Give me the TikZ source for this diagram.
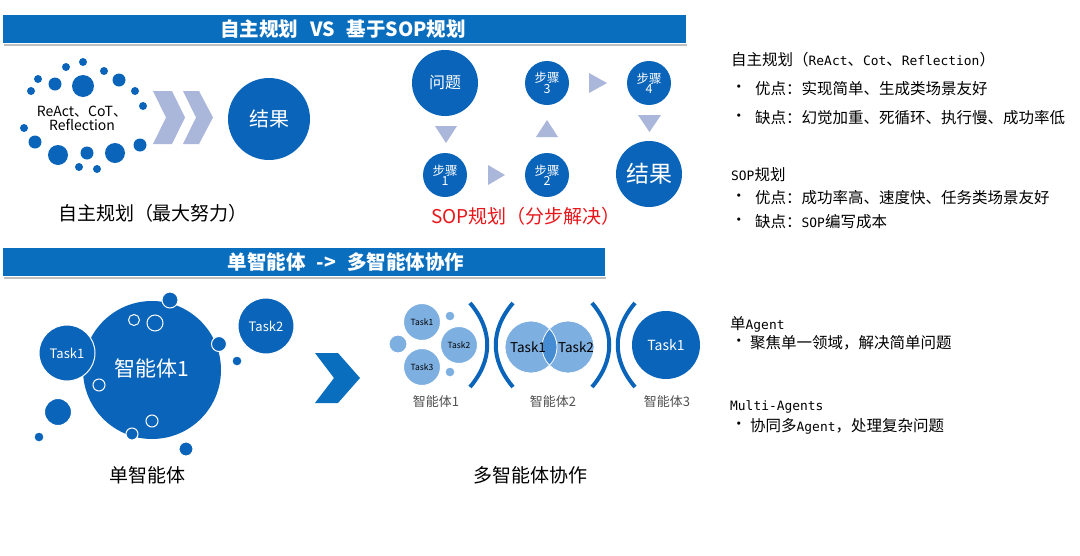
\documentclass[tikz,border=0pt]{standalone}
\usepackage{fontspec}
\setmainfont{Noto Sans CJK SC}
\newfontfamily\mono{DejaVu Sans Mono}
\newcommand\mn[1]{{\mono\fontsize{12.9}{12.9}\selectfont #1}}
\newcommand\fs[1]{\fontsize{#1}{#1}\selectfont}
\definecolor{mainblue}{RGB}{10,100,185}
\definecolor{banblue}{RGB}{10,110,190}
\definecolor{chev}{RGB}{170,182,218}
\definecolor{lightc}{RGB}{125,175,225}
\definecolor{overlapc}{RGB}{70,140,210}
\definecolor{labgray}{RGB}{80,80,80}
\tikzset{
  banner/.style={fill=banblue, inner sep=0pt},
  bantext/.style={inner sep=0pt, text=white, font=\bfseries\fs{19.5}},
  dot/.style={circle, fill=mainblue, inner sep=0pt},
  wdot/.style={circle, fill=mainblue, draw=white, line width=1pt, inner sep=0pt},
  hollow/.style={circle, draw=white, line width=1pt, inner sep=0pt},
  ldot/.style={circle, fill=lightc, draw=white, line width=1pt, inner sep=0pt},
  tri/.style={fill=chev},
  brk/.style={draw=mainblue, line width=4pt},
  rtext/.style={anchor=west, inner sep=0pt, font=\fs{15.5}, text=black},
  ttl/.style={inner sep=0pt, font=\fs{19}, text=black},
}
\begin{document}
\begin{tikzpicture}[x=1pt,y=-1pt]
\useasboundingbox (0,0) rectangle (1080,555);
\fill[white] (0,0) rectangle (1080,555);

% banners
\fill[black!25] (4,44) rectangle (687,45.5);
\node[banner, minimum width=683, minimum height=28] (ban1) at (344.5,29) {};
\node[bantext] (ban1t) at (343,29) {自主规划\hspace{12pt}VS\hspace{12pt}基于SOP规划};
\fill[black!25] (4,277) rectangle (606,278.5);
\node[banner, minimum width=602, minimum height=28] (ban2) at (304,262) {};
\node[bantext] (ban2t) at (346,262) {单智能体\hspace{11pt}->\hspace{11pt}多智能体协作};

% dot cloud
\foreach \x/\y/\r [count=\i] in {83/62/4,66/67/4,104/71/4,38/79/4,55/84/6.5,83/86/11,119/80/6.5,31/91/4,135/91/4,143/106/4,24/128/4,35/142/6.5,140/145/6.5,58/155/10,87/153/6.5,115/153/10,79/167/4,97/169/4}
  \node[dot, minimum size=2*\r] (d\i) at (\x,\y) {};
\node[align=center, inner sep=0pt, font=\fs{14}] (react) at (82,118) {ReAct、CoT、\\[0pt]Reflection};

% chevrons
\fill[chev] (153,91) -- (172,91) -- (185,117.5) -- (172,144) -- (153,144) -- (166,117.5) -- cycle;
\fill[chev] (183,91) -- (199,91) -- (213,117.5) -- (199,144) -- (183,144) -- (196,117.5) -- cycle;
\node[dot, minimum size=82, text=white, font=\fs{20}] (res1) at (269,119) {结果};
\node[ttl] (cap1) at (153,213) {自主规划（最大努力）};

% SOP
\node[dot, minimum size=66, text=white, font=\fs{16}] (q) at (445,83) {问题};
\node[dot, minimum size=44, text=white, font=\fs{12.5}, align=center] (s1) at (445,175) {步骤\\[-2pt]1};
\node[dot, minimum size=44, text=white, font=\fs{12.5}, align=center] (s2) at (547,175) {步骤\\[-2pt]2};
\node[dot, minimum size=44, text=white, font=\fs{12.5}, align=center] (s3) at (547,83) {步骤\\[-2pt]3};
\node[dot, minimum size=44, text=white, font=\fs{12.5}, align=center] (s4) at (649,83) {步骤\\[-2pt]4};
\node[dot, minimum size=66, text=white, font=\fs{23}] (res2) at (649,174) {结果};
\fill[tri] (435,126) -- (457,126) -- (446,143) -- cycle;
\fill[tri] (488,165) -- (505,175) -- (488,185) -- cycle;
\fill[tri] (536,137) -- (558,137) -- (547,120) -- cycle;
\fill[tri] (589,73) -- (607,83) -- (589,93) -- cycle;
\fill[tri] (638,115) -- (661,115) -- (649.5,132) -- cycle;
\node[ttl, text={rgb,255:red,232;green,22;blue,27}] (cap2) at (526,216) {SOP规划（分步解决）};

% right text top
\node[rtext] (r1) at (731,60) {自主规划（\mn{ReAct}、\mn{Cot}、\mn{Reflection}）};
\node[rtext] (b1) at (731,89) {•};
\node[rtext] (r2) at (755,89) {优点：实现简单、生成类场景友好};
\node[rtext] (b2) at (731,118) {•};
\node[rtext] (r3) at (755,118) {缺点：幻觉加重、死循环、执行慢、成功率低};
\node[rtext] (r4) at (731,175) {\mn{SOP}规划};
\node[rtext] (b3) at (731,198) {•};
\node[rtext] (r5) at (755,198) {优点：成功率高、速度快、任务类场景友好};
\node[rtext] (b4) at (731,222) {•};
\node[rtext] (r6) at (755,222) {缺点：\mn{SOP}编写成本};

% single agent
\node[dot, minimum size=138] (ag1) at (152,370) {};
\node[wdot, minimum size=56, text=white, font=\fs{13}] (tk1) at (67,353) {Task1};
\node[wdot, minimum size=56, text=white, font=\fs{13}] (tk2) at (266,326) {Task2};
\foreach \x/\y/\r [count=\i] in {170/300/8,219/344/7.5,237/361/5,58/412/13.5,39/437/5,186/449/7,132/434/6}
  \node[wdot, minimum size=2*\r] (sd\i) at (\x,\y) {};
\foreach \x/\y/\r [count=\i] in {134/320/5.5,155/323/8,99/385/6,152/421/6}
  \node[hollow, minimum size=2*\r] (h\i) at (\x,\y) {};
\node[inner sep=0pt, text=white, font=\fs{21}] (ag1t) at (152,368) {智能体1};
\node[ttl] (cap3) at (147,475) {单智能体};

% big chevron
\fill[banblue] (315,353) -- (338,353) -- (360,378) -- (338,403) -- (315,403) -- (334,378) -- cycle;

% multi agent 1
\node[ldot, minimum size=37, font=\fs{8.5}] (m1) at (422,322) {Task1};
\node[ldot, minimum size=37, font=\fs{8.5}] (m2) at (459,345) {Task2};
\node[ldot, minimum size=37, font=\fs{8.5}] (m3) at (422,367) {Task3};
\node[ldot, minimum size=18] (m4) at (398,344) {};
\node[ldot, minimum size=10] (m5) at (450,316) {};
\node[ldot, minimum size=10] (m6) at (450,372) {};
\node[inner sep=0pt, font=\fs{13}, text=labgray] (l1) at (436,402) {智能体1};

% brackets
\draw[brk] (470,303) .. controls (493,330) and (493,360) .. (470,387);
\draw[brk] (513,303) .. controls (490,330) and (490,360) .. (513,387);
\draw[brk] (592,303) .. controls (615,330) and (615,360) .. (592,387);
\draw[brk] (635,303) .. controls (612,330) and (612,360) .. (635,387);

% agent 2
\fill[lightc] (531,347) circle (26) (568,347) circle (26);
\begin{scope}
\clip (531,347) circle (26);
\fill[overlapc] (568,347) circle (26);
\end{scope}
\draw[white, line width=0.8pt] (531,347) circle (26) (568,347) circle (26);
\node[inner sep=0pt, font=\fs{13.5}] (a2t1) at (528,347) {Task1};
\node[inner sep=0pt, font=\fs{13.5}] (a2t2) at (576,347) {Task2};
\node[inner sep=0pt, font=\fs{13}, text=labgray] (l2) at (553,402) {智能体2};

% agent 3
\node[dot, minimum size=68, text=white, font=\fs{14}] (a3) at (666,345) {Task1};
\node[inner sep=0pt, font=\fs{13}, text=labgray] (l3) at (667,402) {智能体3};
\node[ttl] (cap4) at (530,475) {多智能体协作};

% right text bottom
\node[rtext] (r7) at (730,324) {单\mn{Agent}};
\node[rtext] (b5) at (731,343) {•};
\node[rtext] (r8) at (750,343) {聚焦单一领域，解决简单问题};
\node[rtext] (r9) at (730,407) {\mn{Multi-Agents}};
\node[rtext] (b6) at (731,426) {•};
\node[rtext] (r10) at (750,426) {协同多\mn{Agent}，处理复杂问题};
\end{tikzpicture}
\end{document}
